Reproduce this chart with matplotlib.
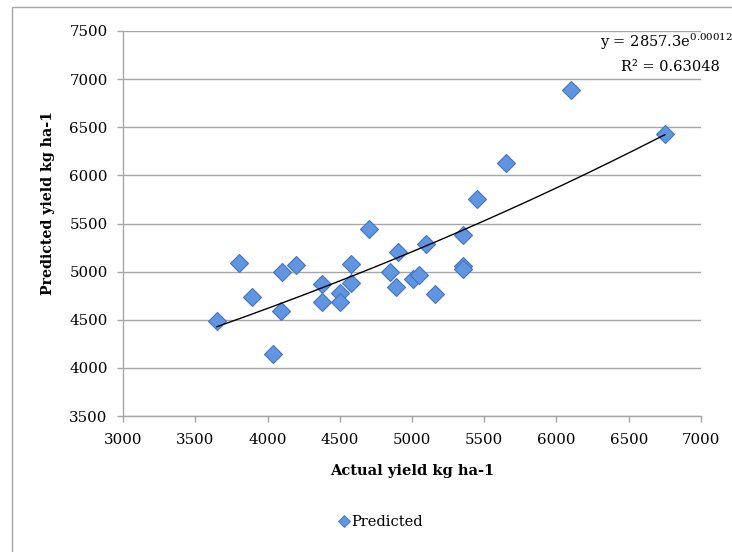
import matplotlib
matplotlib.use("Agg")
import matplotlib.pyplot as plt
import numpy as np
from matplotlib.patches import Rectangle

# Data
actual = [3650, 3800, 3890, 4100, 4200, 4090, 4040, 4380, 4380, 4500,
          4500, 4580, 4580, 4700, 4850, 4890, 4900, 5010, 5050, 5160,
          5100, 5350, 5350, 5350, 5450, 5650, 6100, 6750]
predicted = [4490, 5090, 4740, 5000, 5070, 4590, 4140, 4870, 4680, 4780,
             4680, 5080, 4880, 5440, 5000, 4840, 5200, 4920, 4970, 4770,
             5290, 5060, 5030, 5380, 5750, 6130, 6890, 6430]
trend_a = 2857.3
trend_b = 0.00012
r_squared_text = "0.63048"
xticks = [3000, 3500, 4000, 4500, 5000, 5500, 6000, 6500, 7000]
yticks = [3500, 4000, 4500, 5000, 5500, 6000, 6500, 7000, 7500]

W, H = 732, 552
fig = plt.figure(figsize=(W / 100, H / 100), dpi=100)
fig.patch.set_facecolor("white")
plt.rcParams['font.family'] = ['DejaVu Serif']
plt.rcParams['mathtext.default'] = 'regular'

# outer chart border (extends past right/bottom edge)
fig.patches.append(Rectangle((12 / W, -0.1), 1.2, 1 - 7 / H + 0.1,
                             transform=fig.transFigure, fill=False,
                             edgecolor="#A6A6A6", linewidth=1.0))

ax = fig.add_axes([123 / W, 1 - 416 / H, (701 - 123) / W, (416 - 31) / H])
ax.set_xlim(3000, 7000)
ax.set_ylim(3500, 7500)
ax.set_xticks(xticks)
ax.set_yticks(yticks)
ax.yaxis.grid(True, color="#A6A6A6", linewidth=1.0)
ax.set_axisbelow(True)
for s in ["top", "right"]:
    ax.spines[s].set_visible(False)
for s in ["left", "bottom"]:
    ax.spines[s].set_color("#A6A6A6")
    ax.spines[s].set_linewidth(1.0)
ax.tick_params(axis="both", colors="#A6A6A6", length=4, width=1,
               labelcolor="black", labelsize=10.8)
ax.tick_params(axis="x", pad=8)
ax.tick_params(axis="y", pad=7)

ax.plot(actual, predicted, linestyle="none", marker="D", markersize=9.5,
        markerfacecolor="#6096E0", markeredgecolor="#4472C4",
        markeredgewidth=0.8, zorder=3)

xt = np.linspace(min(actual), max(actual), 200)
ax.plot(xt, trend_a * np.exp(trend_b * xt), color="black", linewidth=1.0, zorder=4)

fig.text(670 / W, 1 - 42 / H, r"y = 2857.3e$^{0.00012x}$", ha="center", va="center",
         fontsize=10.5)
fig.text(670 / W, 1 - 67 / H, "R² = " + r_squared_text, ha="center", va="center",
         fontsize=10.5)

fig.text(412 / W, 1 - 471 / H, "Actual yield kg ha-1", ha="center", va="center",
         fontsize=10.5, fontweight="bold")
fig.text(48 / W, 1 - 203 / H, "Predicted yield kg ha-1", ha="center", va="center",
         fontsize=10.2, fontweight="bold", rotation=90)

# legend
fig.lines.append(plt.Line2D([344 / W], [1 - 521 / H], transform=fig.transFigure,
                            marker="D", markersize=6, linestyle="none",
                            markerfacecolor="#6096E0", markeredgecolor="#4472C4",
                            markeredgewidth=0.6))
fig.text(351 / W, 1 - 522 / H, "Predicted", ha="left", va="center", fontsize=10.5)

fig.savefig("out.png", dpi=100, facecolor="white")
